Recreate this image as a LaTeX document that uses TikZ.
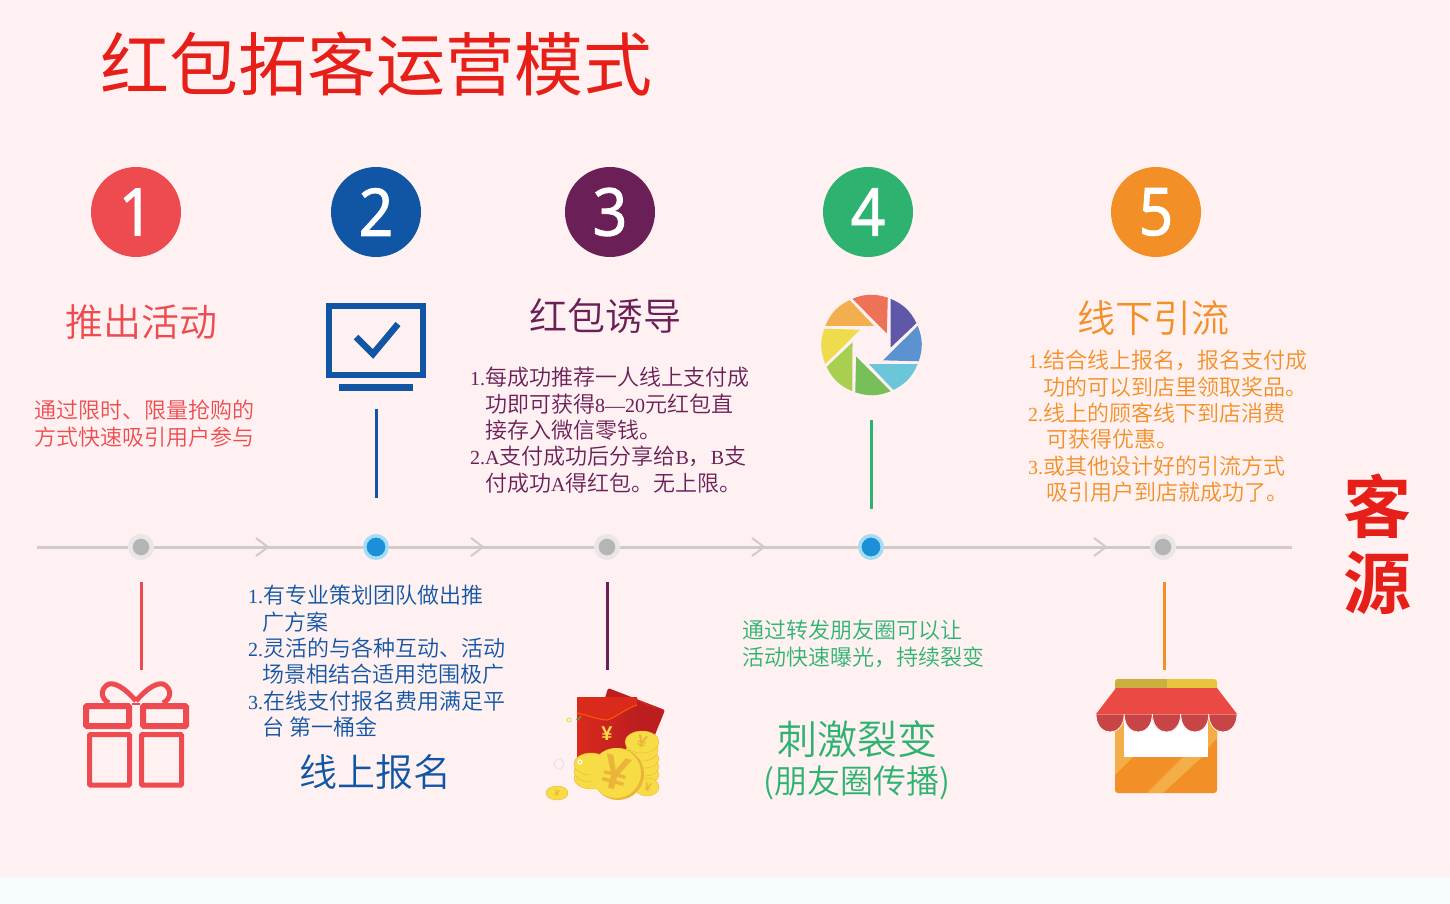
\documentclass[tikz,border=0pt]{standalone}
\usepackage{fontspec}
\newfontfamily\cjk{Noto Sans CJK SC DemiLight}
\newfontfamily\cjktitle{Noto Sans CJK SC}
\newfontfamily\cjkbold{Noto Sans CJK SC Bold}
\newfontfamily\latn{Liberation Serif}
\newfontfamily\yenfont{Liberation Sans Bold}
\newfontfamily\digit[FakeBold=1.2,FakeStretch=0.92]{Noto Sans}
\newcommand{\la}[1]{{\latn\fontsize{20}{26.35}\selectfont #1}}
\definecolor{bgpink}{HTML}{FFF1F1}
\definecolor{bgband}{HTML}{F6FBFD}
\definecolor{titlered}{HTML}{E71F19}
\definecolor{cred}{HTML}{EE4B50}
\definecolor{cblue}{HTML}{1155A5}
\definecolor{cpurple}{HTML}{6B1F57}
\definecolor{cgreen}{HTML}{2DB36F}
\definecolor{corange}{HTML}{F38F27}
\definecolor{axisgrey}{HTML}{CFCBCB}
\definecolor{dotgrey}{HTML}{B5B5B5}
\definecolor{ringgrey}{HTML}{E8E6E6}
\definecolor{dotblue}{HTML}{1B8FD8}
\definecolor{ringblue}{HTML}{A5DCF3}
\definecolor{coin}{HTML}{F8DC45}
\definecolor{coindark}{HTML}{EBB53A}
\definecolor{packet}{HTML}{DA2A1C}
\definecolor{packetdark}{HTML}{BC1E20}
\definecolor{roofa}{HTML}{CBAE40}
\definecolor{roofb}{HTML}{E8C63B}
\definecolor{shoplight}{HTML}{F4AE48}
\definecolor{awning}{HTML}{EB4A44}
\definecolor{scallop}{HTML}{C94444}
\tikzset{
  numdot/.style={circle,minimum size=90pt,inner sep=0,text=white,font=\fontsize{66}{66}\digit},
  head/.style={inner sep=0,font=\fontsize{38}{44}\cjk},
  body/.style={anchor=north west,inner sep=0,align=left,font=\fontsize{22}{26.35}\cjk},
  greydot/.style={circle,minimum size=21.5pt,inner sep=0,fill=dotgrey,draw=ringgrey,line width=4.5pt},
  bluedot/.style={circle,minimum size=22.5pt,inner sep=0,fill=dotblue,draw=ringblue,line width=3.5pt},
  axis/.style={axisgrey,line width=3pt},
  chevron/.style={axisgrey,line width=2pt},
  stem/.style={line width=3pt},
  coinface/.style={draw=coindark,fill=coin},
  yen/.style={inner sep=0,text=coindark,rotate=-15}
}
\begin{document}
\begin{tikzpicture}[x=1pt,y=-1pt]
\useasboundingbox (0,0) rectangle (1450,904);
\fill[bgpink] (0,0) rectangle (1450,877);
\fill[bgband] (0,877) rectangle (1450,904);

\node[inner sep=0,text=titlered,font=\fontsize{69}{69}\cjktitle] (title) at (376,64) {红包拓客运营模式};
\node[inner sep=0,text=titlered,align=center,font=\fontsize{68}{76}\cjkbold] (source) at (1377,544) {客\\源};

\node[numdot,fill=cred] (num1) at (136,212) {1};
\node[numdot,fill=cblue] (num2) at (376,212) {2};
\node[numdot,fill=cpurple] (num3) at (610,212) {3};
\node[numdot,fill=cgreen] (num4) at (868,212) {4};
\node[numdot,fill=corange] (num5) at (1156,212) {5};

\node[head,text=cred] (head1) at (141,322) {推出活动};
\node[head,text=cblue] (head2) at (375,772) {线上报名};
\node[head,text=cpurple] (head3) at (605,316) {红包诱导};
\node[head,text=cgreen,font=\fontsize{40}{44}\cjk] (head4a) at (857,739) {刺激裂变};
\node[head,text=cgreen,font=\fontsize{33}{44}\cjk] (head4b) at (857,783) {(朋友圈传播)};
\node[head,text=corange] (head5) at (1153,318) {线下引流};

\node[body,text=cred] (text1) at (34,400) {通过限时、限量抢购的\\方式快速吸引用户参与};
\node[body,text=cblue] (text2) at (248,585) {\la{1.}有专业策划团队做出推\\\hspace*{14pt}广方案\\\la{2.}灵活的与各种互动、活动\\\hspace*{14pt}场景相结合适用范围极广\\\la{3.}在线支付报名费用满足平\\\hspace*{14pt}台 第一桶金};
\node[body,text=cpurple] (text3) at (470,367) {\la{1.}每成功推荐一人线上支付成\\\hspace*{15pt}功即可获得\la{8—20}元红包直\\\hspace*{15pt}接存入微信零钱。\\\la{2.A}支付成功后分享给\la{B}，\la{B}支\\\hspace*{15pt}付成功\la{A}得红包。无上限。};
\node[body,text=cgreen] (text4) at (742,620) {通过转发朋友圈可以让\\活动快速曝光，持续裂变};
\node[body,text=corange] (text5) at (1028,350) {\la{1.}结合线上报名，报名支付成\\\hspace*{15pt}功的可以到店里领取奖品。\\\la{2.}线上的顾客线下到店消费\\\hspace*{18pt}可获得优惠。\\\la{3.}或其他设计好的引流方式\\\hspace*{18pt}吸引用户到店就成功了。};

\coordinate (axisl) at (37,547);
\coordinate (axisr) at (1292,547);
\node[greydot] (dot1) at (141,547) {};
\node[bluedot] (dot2) at (376,547) {};
\node[greydot] (dot3) at (607,547) {};
\node[bluedot] (dot4) at (871,547) {};
\node[greydot] (dot5) at (1163,547) {};
\draw[axis] (axisl)--(dot1)--(dot2)--(dot3)--(dot4)--(dot5)--(axisr);
\foreach \xtip in {268,483,764,1106}
  \draw[chevron] (\xtip-12,538)--(\xtip,547)--(\xtip-12,556);

\coordinate (stem1) at (141,582);
\coordinate (icon1) at (141,670);
\coordinate (stem2) at (376,409);
\coordinate (icon2) at (376,498);
\coordinate (stem3) at (607,582);
\coordinate (icon3) at (607,670);
\coordinate (stem4) at (871,420);
\coordinate (icon4) at (871,509);
\coordinate (stem5) at (1164,582);
\coordinate (icon5) at (1164,670);
\draw[stem,cred] (stem1)--(icon1);
\draw[stem,cblue] (stem2)--(icon2);
\draw[stem,cpurple] (stem3)--(icon3);
\draw[stem,cgreen] (stem4)--(icon4);
\draw[stem,corange] (stem5)--(icon5);

\draw[cred,line width=6pt,rounded corners=1pt] (86,706) rectangle (129,726);
\draw[cred,line width=6pt,rounded corners=1pt] (143,706) rectangle (186,726);
\fill[cred] (132,703) rectangle (140,705);
\draw[cred,line width=5pt,rounded corners=1pt] (89.5,734.5) rectangle (129.5,785);
\draw[cred,line width=5pt,rounded corners=1pt] (141.5,734.5) rectangle (181.5,785);
\draw[cred,line width=5pt] (136,701) .. controls (124,687) and (113,681) .. (107,685) .. controls (100,690) and (101,699) .. (109,703);
\draw[cred,line width=5pt] (136,701) .. controls (148,687) and (159,681) .. (165,685) .. controls (172,690) and (171,699) .. (163,703);

\draw[cblue,line width=6pt] (329,306) rectangle (423,375);
\fill[cblue] (339,384) rectangle (413,391);
\draw[cblue,line width=6.5pt] (356,337)--(373,354)--(398,324);

\foreach \i/\col in {0/5F58A8,1/5B93D0,2/6AC6D8,3/76BF59,4/A8CF4F,5/EFDB4E,6/F3AF4D,7/EE7257}{
  \definecolor{blade}{HTML}{\col}
  \begin{scope}[shift={(871.5,345)},rotate=-45*\i]
    \fill[blade] (-67.5:50) to[bend left=20] (-26:50) -- (19,2.7) -- cycle;
  \end{scope}
}

\fill[packetdark,rounded corners=2pt] (608,688)--(665,710)--(648,752)--(595,732)--cycle;
\draw[packet,line width=1pt] (632,698)--(656,708);
\shade[left color=packet,right color=packetdark,rounded corners=1pt] (577,697) rectangle (637,765);
\fill[packet] (577,697)--(637,697)--(637,705) .. controls (625,709) and (615,718) .. (607,720) .. controls (600,720) and (590,716) .. (577,713)--cycle;
\draw[orange!70!red,line width=1pt] (577,713) .. controls (590,716) and (600,720) .. (607,720) .. controls (615,718) and (625,709) .. (637,705);
\node[inner sep=0,text=coin,font=\fontsize{20}{20}\yenfont] (yen1) at (607,734) {¥};
\foreach \ycoin in {775,767,759}
  \filldraw[coinface] (644,\ycoin) ellipse[x radius=15pt,y radius=9pt];
\filldraw[coinface] (642,750) ellipse[x radius=16pt,y radius=11pt];
\filldraw[coinface] (642,742) ellipse[x radius=17pt,y radius=11pt];
\filldraw[coinface] (647,787) ellipse[x radius=12pt,y radius=9pt];
\foreach \ycoin in {778,771,764}
  \filldraw[coinface] (591,\ycoin) ellipse[x radius=17pt,y radius=11pt];
\fill[coindark] (618,774) circle[radius=26pt];
\fill[coin] (616,773) circle[radius=25pt];
\node[yen,font=\fontsize{48}{48}\yenfont] (yen2) at (616,773) {¥};
\node[yen,font=\fontsize{18}{18}\yenfont] (yen3) at (642,742) {¥};
\node[yen,font=\fontsize{12}{12}\yenfont] (yen4) at (648,787) {¥};
\filldraw[coinface] (557,793) ellipse[x radius=11pt,y radius=7pt];
\node[yen,font=\fontsize{9}{9}\yenfont] (yen5) at (557,793) {¥};
\draw[black!10,line width=1pt] (559,764) circle[radius=5pt];
\draw[coin,line width=1pt] (569,720) circle[radius=2pt];
\draw[green!60!black!70,line width=1pt] (576,719)--(578,720)--(581,716);
\draw[white,line width=1pt] (580,762) circle[radius=2pt];

\fill[roofb,rounded corners=3pt] (1115,692)--(1115,679)--(1217,679)--(1217,692)--cycle;
\fill[roofa,rounded corners=3pt] (1115,692)--(1115,679)--(1167,679)--(1170,679)--(1170,692)--cycle;
\fill[roofb] (1167,679) rectangle (1172,692);
\fill[corange,rounded corners=3pt] (1115,700) rectangle (1217,793);
\fill[shoplight] (1115,700)--(1124,700)--(1124,757)--(1133,757)--(1115,775)--cycle;
\fill[shoplight] (1208,700)--(1217,700)--(1217,738)--(1208,748)--cycle;
\fill[shoplight] (1147,793)--(1163,793)--(1202,757)--(1183,757)--cycle;
\fill[white] (1124,700) rectangle (1208,757);
\foreach \i in {0,1,2,3,4}
  \filldraw[fill=scallop,draw=white,line width=0.7pt] (1096+28.2*\i,714) .. controls (1096+28.2*\i,738) and (1096+28.2*\i+28.2,738) .. (1096+28.2*\i+28.2,714)--cycle;
\fill[awning] (1116,688)--(1217,688)--(1237,714)--(1096,714)--cycle;
\end{tikzpicture}
\end{document}
